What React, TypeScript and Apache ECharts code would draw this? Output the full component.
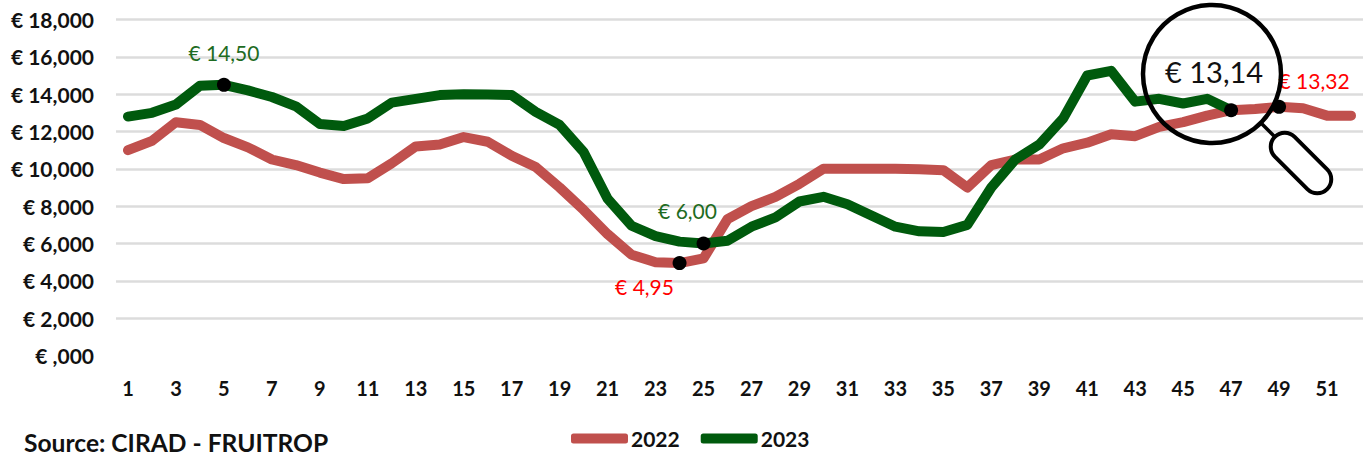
import React, { useEffect, useRef } from "react";
import * as echarts from "echarts";

const weeks = Array.from({ length: 52 }, (_, i) => String(i + 1));
const values2022 = [11000, 11500, 12500, 12350, 11650, 11150, 10500, 10200, 9800, 9450, 9500, 10300, 11200, 11300, 11700, 11450, 10700, 10100, 9000, 7800, 6500, 5400, 5000, 4950, 5200, 7300, 8000, 8500, 9200, 10000, 10000, 10000, 10000, 9980, 9930, 9000, 10200, 10500, 10500, 11100, 11400, 11850, 11750, 12250, 12500, 12850, 13140, 13200, 13320, 13250, 12850, 12850];
const values2023 = [12800, 13000, 13450, 14450, 14500, 14200, 13850, 13350, 12400, 12300, 12700, 13550, 13750, 13950, 14000, 13980, 13950, 13050, 12350, 10900, 8400, 6950, 6400, 6100, 6000, 6150, 6900, 7400, 8250, 8500, 8100, 7500, 6900, 6650, 6620, 7000, 9000, 10500, 11300, 12700, 15000, 15250, 13600, 13750, 13500, 13750, 13140];
const notes2022: Record<number, [string, number, number]> = {
  24: ["€ 4,95", -35, 23],
  49: ["€ 13,32", 35, -26],
};
const notes2023: Record<number, [string, number, number]> = {
  5: ["€ 14,50", 0, -32],
  25: ["€ 6,00", -16, -33],
};
const bigNote2023 = "€ 13,14";
const FONT = "Lato, sans-serif";
const RED = "#c0504d";
const GREEN = "#005a0d";

function points(values: number[], notes: Record<number, [string, number, number]>, color: string) {
  return values.map((value, i) => {
    const n = notes[i + 1];
    if (!n) return { value, symbol: "none" };
    return {
      value,
      symbol: "circle",
      symbolSize: 14,
      itemStyle: { color: "#000", borderWidth: 0 },
      label: {
        show: true,
        formatter: n[0],
        position: "inside",
        offset: [n[1], n[2]],
        color,
        fontFamily: FONT,
        fontSize: 21,
      },
    };
  });
}

export default function App() {
  const ref = useRef<HTMLDivElement>(null);
  useEffect(() => {
    const chart = echarts.init(ref.current!, null, { renderer: "svg" });
    const data2023: any[] = points(values2023, notes2023, "#1e6b22");
    data2023[46] = {
      value: values2023[46],
      symbol: "circle",
      symbolSize: 14,
      itemStyle: { color: "#000", borderWidth: 0 },
      label: {
        show: true,
        formatter: bigNote2023,
        position: "inside",
        offset: [-17, -39],
        color: "#111",
        fontFamily: FONT,
        fontSize: 29,
      },
    };
    const line = (name: string, data: any[], color: string) => ({
      name,
      type: "line",
      data,
      showSymbol: true,
      showAllSymbol: true,
      symbol: "none",
      smooth: false,
      lineStyle: { color, width: 10, cap: "round", join: "round" },
      itemStyle: { color },
      emphasis: { disabled: true },
    });
    chart.setOption({
      animation: false,
      grid: { left: 116, right: 0, top: 19.5, bottom: 100.5 },
      legend: {
        data: ["2022", "2023"],
        left: 571,
        top: 428,
        itemWidth: 57,
        itemHeight: 10,
        itemGap: 21,
        padding: 0,
        icon: "roundRect",
        textStyle: { fontFamily: FONT, fontWeight: "bold", fontSize: 21, color: "#111", padding: [0, 0, 0, -2] },
      },
      xAxis: {
        type: "category",
        data: weeks,
        boundaryGap: true,
        axisLine: { show: false },
        axisTick: { show: false },
        axisLabel: { interval: 1, margin: 22, color: "#111", fontFamily: FONT, fontWeight: "bold", fontSize: 20 },
      },
      yAxis: {
        type: "value",
        min: 0,
        max: 18000,
        interval: 2000,
        axisLine: { show: false },
        axisTick: { show: false },
        splitLine: { showMinLine: false, lineStyle: { color: "#dcdcdc", width: 2.5 } },
        axisLabel: {
          margin: 22,
          color: "#111",
          fontFamily: FONT,
          fontWeight: "bold",
          fontSize: 21,
          formatter: (v: number) => (v === 0 ? "€ ,000" : "€ " + v.toLocaleString("en-US")),
        },
      },
      series: [line("2022", points(values2022, notes2022, "#ff0000"), RED), line("2023", data2023, GREEN)],
      graphic: [
        { type: "text", left: 24, top: 430, style: { text: "Source: CIRAD - FRUITROP", fontFamily: FONT, fontWeight: "bold", fontSize: 24.6, fill: "#111" } },
        { type: "line", z: 50, shape: { x1: 1262, y1: 124, x2: 1275, y2: 137 }, style: { stroke: "#000", lineWidth: 3.5 } },
        { type: "circle", z: 50, shape: { cx: 1212, cy: 74, r: 69 }, style: { fill: "none", stroke: "#000", lineWidth: 4.5 } },
        { type: "rect", z: 50, x: 1301, y: 163, rotation: -Math.PI / 4, shape: { x: -37, y: -14, width: 74, height: 28, r: 14 }, style: { fill: "#fff", stroke: "#000", lineWidth: 4 } },
      ],
    });
    return () => chart.dispose();
  }, []);
  return <div ref={ref} style={{ position: "fixed", left: 0, top: 0, width: 1363, height: 456, background: "#fff" }} />;
}
